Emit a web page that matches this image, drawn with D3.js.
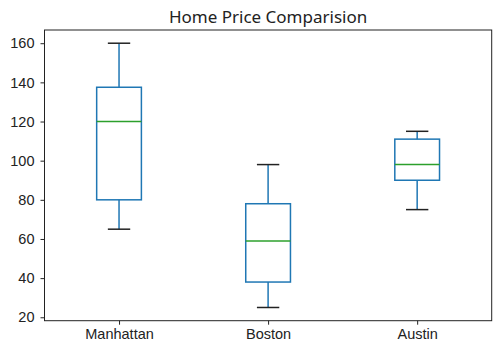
<!DOCTYPE html>
<meta charset="utf-8" />
<title>Home Price Comparision</title>
<style>
  body { margin: 0; background: #fff; }
  svg { font-family: "Noto Sans", "Open Sans", sans-serif; }
  .tick text { font-size: 14.5px; fill: #222; }
</style>
<body>
<svg></svg>
<script src="https://d3js.org/d3.v7.min.js"></script>
<script>
  const categories = ["Manhattan", "Boston", "Austin"];
  const whiskerLow = [65, 25, 75];
  const q1 = [80, 38, 90];
  const medians = [120, 59, 98];
  const q3 = [137.5, 78, 111];
  const whiskerHigh = [160, 98, 115];
  const yTicks = [20, 40, 60, 80, 100, 120, 140, 160];

  const width = 500, height = 352;
  const margin = { top: 30, right: 8.3, bottom: 31.3, left: 44.5 };

  const svg = d3.select("svg").attr("width", width).attr("height", height);

  const boxes = categories.map((c, i) => ({
    name: c, pos: i + 1,
    low: whiskerLow[i], q1: q1[i], med: medians[i], q3: q3[i], high: whiskerHigh[i]
  }));

  const x = d3.scaleLinear().domain([0.5, 3.5]).range([margin.left, width - margin.right]);
  const allVals = whiskerLow.concat(whiskerHigh);
  const lo = d3.min(allVals), hi = d3.max(allVals), pad = (hi - lo) * 0.05;
  const y = d3.scaleLinear().domain([lo - pad, hi + pad]).range([height - margin.bottom, margin.top]);

  const boxW = 0.3;
  const capW = boxW / 2;

  const g = svg.append("g");

  boxes.forEach(d => {
    const bx = g.append("g");
    // whiskers
    bx.append("line").attr("x1", x(d.pos)).attr("x2", x(d.pos))
      .attr("y1", y(d.q3)).attr("y2", y(d.high))
      .attr("stroke", "#1f77b4").attr("stroke-width", 1.5);
    bx.append("line").attr("x1", x(d.pos)).attr("x2", x(d.pos))
      .attr("y1", y(d.q1)).attr("y2", y(d.low))
      .attr("stroke", "#1f77b4").attr("stroke-width", 1.5);
    // caps
    [d.low, d.high].forEach(v => {
      bx.append("line").attr("x1", x(d.pos - capW / 2)).attr("x2", x(d.pos + capW / 2))
        .attr("y1", y(v)).attr("y2", y(v))
        .attr("stroke", "#222").attr("stroke-width", 1.5);
    });
    // box
    bx.append("rect")
      .attr("x", x(d.pos - boxW / 2)).attr("width", x(d.pos + boxW / 2) - x(d.pos - boxW / 2))
      .attr("y", y(d.q3)).attr("height", y(d.q1) - y(d.q3))
      .attr("fill", "none").attr("stroke", "#1f77b4").attr("stroke-width", 1.5);
    // median
    bx.append("line").attr("x1", x(d.pos - boxW / 2)).attr("x2", x(d.pos + boxW / 2))
      .attr("y1", y(d.med)).attr("y2", y(d.med))
      .attr("stroke", "#2ca02c").attr("stroke-width", 1.5);
  });

  // axes
  const yAxis = svg.append("g")
    .attr("transform", `translate(${margin.left},0)`)
    .call(d3.axisLeft(y).tickValues(yTicks).tickSize(4).tickPadding(6).tickFormat(d3.format("d")));
  yAxis.select(".domain").remove();

  const xAxis = svg.append("g")
    .attr("transform", `translate(0,${height - margin.bottom})`)
    .call(d3.axisBottom(x).tickValues([1, 2, 3]).tickSize(4).tickPadding(4)
      .tickFormat((d, i) => categories[i]));
  xAxis.select(".domain").remove();
  svg.selectAll(".tick line").attr("stroke", "#222").attr("stroke-width", 1);

  // frame
  svg.append("rect")
    .attr("x", margin.left).attr("y", margin.top)
    .attr("width", width - margin.right - margin.left)
    .attr("height", height - margin.bottom - margin.top)
    .attr("fill", "none").attr("stroke", "#222").attr("stroke-width", 1);

  svg.append("text")
    .attr("x", (margin.left + width - margin.right) / 2)
    .attr("y", margin.top - 7)
    .attr("text-anchor", "middle")
    .attr("font-size", 17)
    .attr("fill", "#222")
    .text("Home Price Comparision");
</script>
</body>
